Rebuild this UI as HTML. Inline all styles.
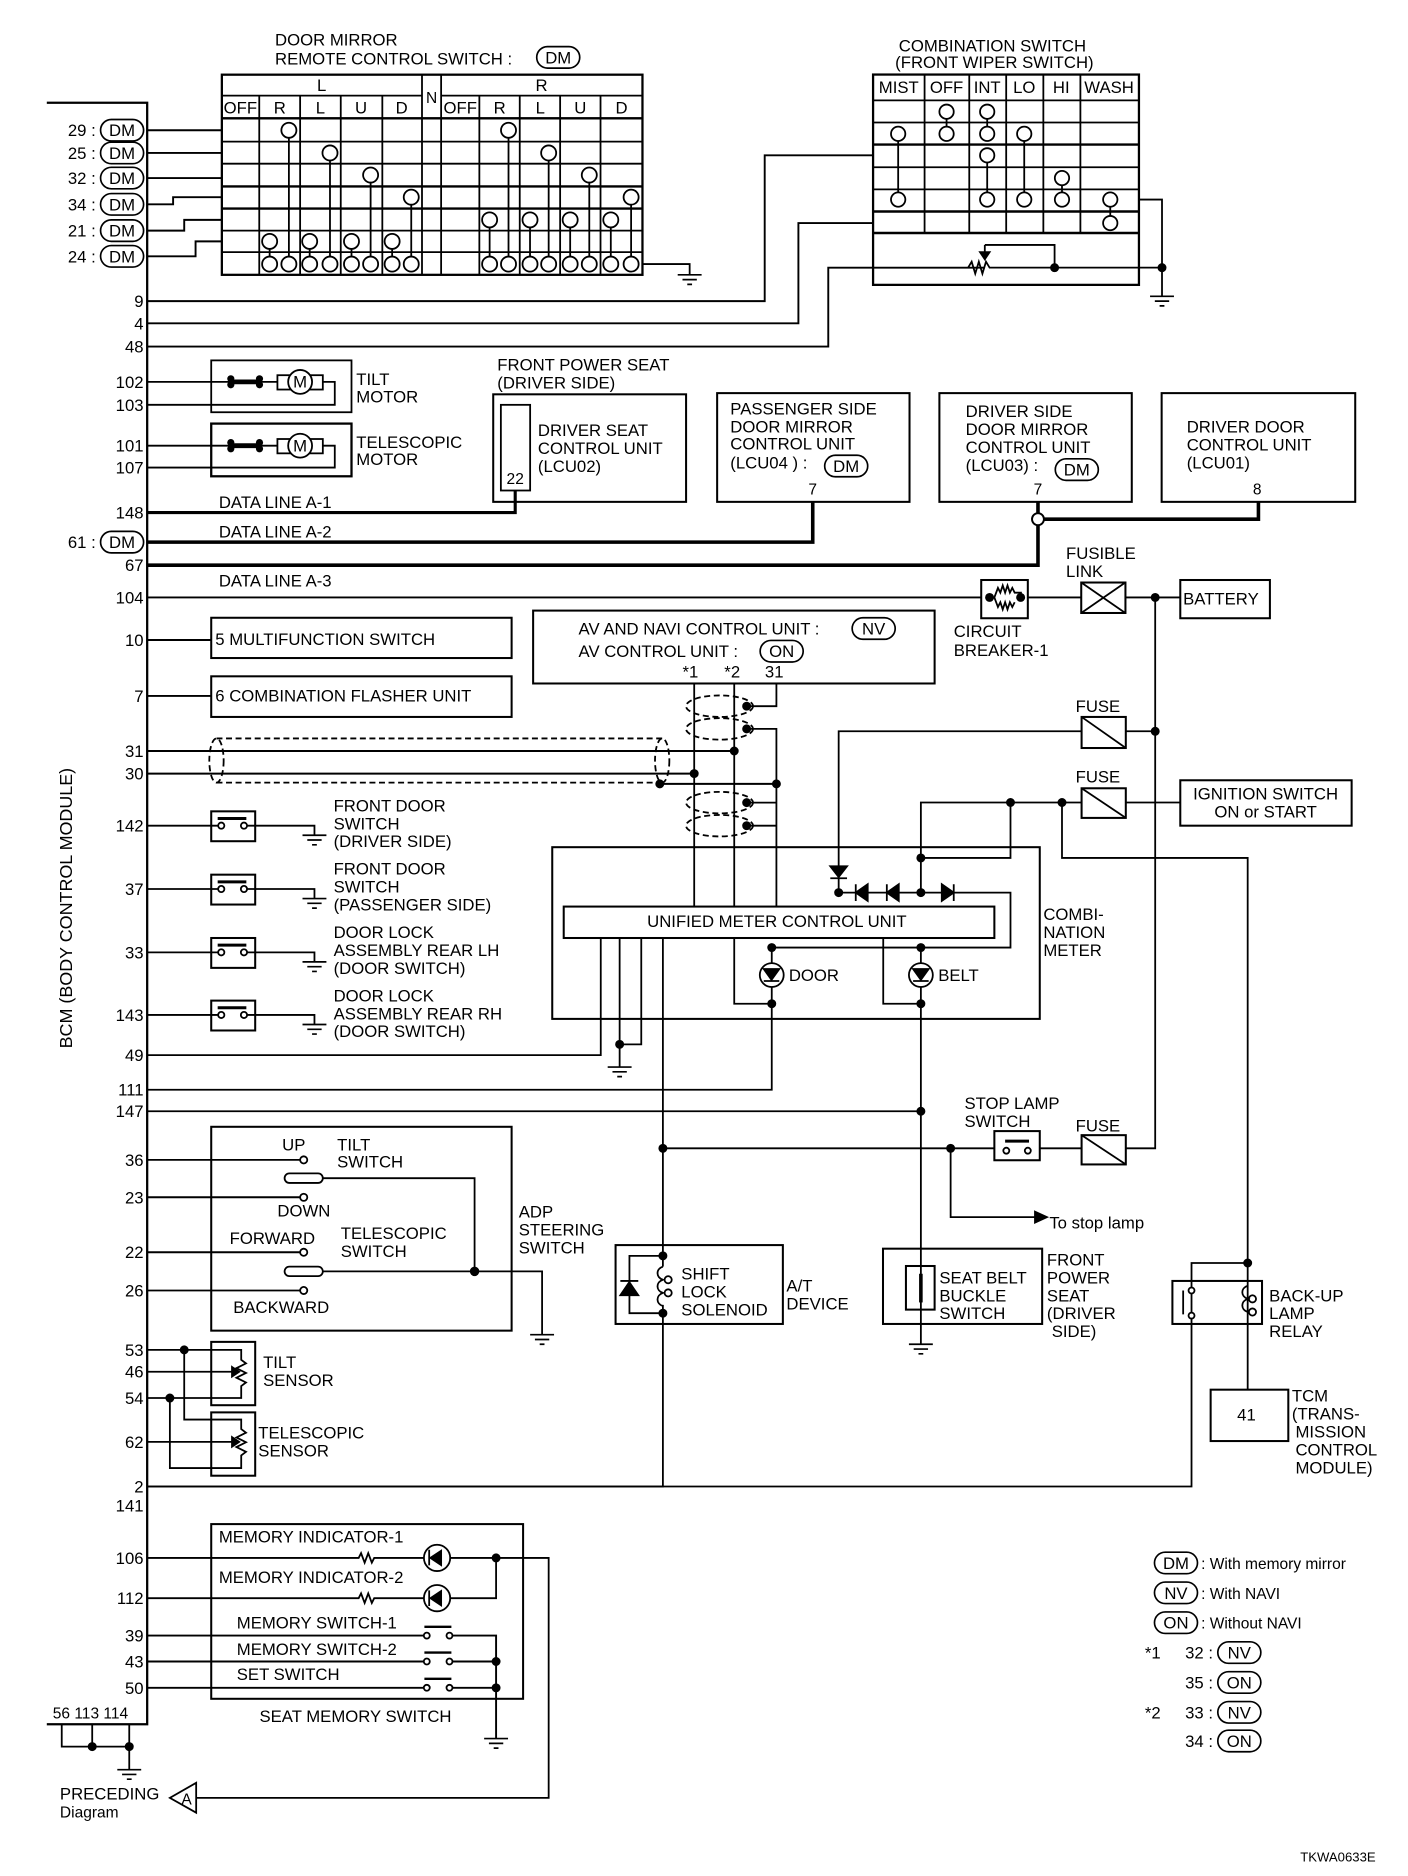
<!DOCTYPE html>
<html><head><meta charset="utf-8"><style>
html,body{margin:0;padding:0;background:#fff;}
svg{display:block;}
text{font-family:"Liberation Sans",sans-serif;font-size:14px;fill:#000;}
.s{font-size:13px;}
.r{text-anchor:end;}
.m{text-anchor:middle;}
</style></head><body>
<svg width="1408" height="1876" viewBox="0 0 1178 1570" xmlns="http://www.w3.org/2000/svg">
<defs>
<g id="gnd" stroke="#000" stroke-width="1.4" fill="none"><path d="M-10 0h20M-6 4h12M-2 8h4"/></g>
<g id="ov"><rect x="-18" y="-9" width="36" height="18" rx="9" fill="#fff" stroke="#000" stroke-width="1.4"/></g>
</defs>
<rect width="1178" height="1570" fill="#fff"/>
<g stroke="#000" fill="none" stroke-width="1.5">

<!-- BCM bus -->
<path d="M39 86H123V1443H39" stroke-width="1.9"/>

<!-- door mirror table -->
<rect x="185.5" y="62.5" width="352" height="167.5" stroke-width="1.9"/>
<path d="M185.5 80H353M369 80H537.5M185.5 99H537.5" />
<path d="M185.5 99H537.5M185.5 156H537.5M185.5 174.5H537.5" stroke-width="2"/>
<path d="M185.5 118.5H537.5M185.5 137H537.5M185.5 193H537.5M185.5 211H537.5"/>
<path d="M216.8 80V230M251 80V230M285 80V230M319.8 80V230M353 62.5V230M369 62.5V230M401 80V230M434.8 80V230M468.6 80V230M502.4 80V230" />
<path d="M123 109H185.5M123 128H185.5M123 149H185.5M123 171H144.7V165H185.5M123 193H154V184H185.5M123 214.5H163.5V202H185.5" stroke-width="1.6"/>
<path d="M241.6 109V221M276 128V221M310 146.5V221M344 165V221M225.5 202V221M259 202V221M294 202V221M328 202V221"/>
<path d="M425.4 109V221M459 128V221M493 146.5V221M528 165V221M409.6 184V221M443.4 184V221M477 184V221M511 184V221"/>
<g fill="#fff">
<circle cx="241.6" cy="109" r="6.3"/><circle cx="276" cy="128" r="6.3"/><circle cx="310" cy="146.5" r="6.3"/><circle cx="344" cy="165" r="6.3"/>
<circle cx="225.5" cy="202" r="6.3"/><circle cx="259" cy="202" r="6.3"/><circle cx="294" cy="202" r="6.3"/><circle cx="328" cy="202" r="6.3"/>
<circle cx="225.5" cy="221" r="6.3"/><circle cx="241.6" cy="221" r="6.3"/><circle cx="259" cy="221" r="6.3"/><circle cx="276" cy="221" r="6.3"/>
<circle cx="294" cy="221" r="6.3"/><circle cx="310" cy="221" r="6.3"/><circle cx="328" cy="221" r="6.3"/><circle cx="344" cy="221" r="6.3"/>
<circle cx="425.4" cy="109" r="6.3"/><circle cx="459" cy="128" r="6.3"/><circle cx="493" cy="146.5" r="6.3"/><circle cx="528" cy="165" r="6.3"/>
<circle cx="409.6" cy="184" r="6.3"/><circle cx="443.4" cy="184" r="6.3"/><circle cx="477" cy="184" r="6.3"/><circle cx="511" cy="184" r="6.3"/>
<circle cx="409.6" cy="221" r="6.3"/><circle cx="425.4" cy="221" r="6.3"/><circle cx="443.4" cy="221" r="6.3"/><circle cx="459" cy="221" r="6.3"/>
<circle cx="477" cy="221" r="6.3"/><circle cx="493" cy="221" r="6.3"/><circle cx="511" cy="221" r="6.3"/><circle cx="528" cy="221" r="6.3"/>
</g>
<path d="M537.5 221H577V230"/>
<use href="#gnd" x="577" y="230"/>

<path d="M123 252H639.8V130H730.5M123 270.6H668V186.7H730.5M123 290H693V224H824" stroke-width="1.6"/>

<!-- combination switch table -->
<rect x="730.5" y="62.4" width="222.5" height="176" stroke-width="1.9"/>
<path d="M730.5 84H953M730.5 102.5H953M730.5 140H953M730.5 158.5H953"/>
<path d="M730.5 121H953M730.5 177H953M730.5 195H953" stroke-width="2"/>
<path d="M773.6 62.4V195M811 62.4V195M841.9 62.4V195M873 62.4V195M904 62.4V195"/>
<path d="M792 93.5V112M826 93.5V112M826 130V167M751.5 112V167M857 112V167M888.6 149V167M929 167V186.7"/>
<g fill="#fff">
<circle cx="792" cy="93.5" r="6"/><circle cx="826" cy="93.5" r="6"/>
<circle cx="751.5" cy="112" r="6"/><circle cx="792" cy="112" r="6"/><circle cx="826" cy="112" r="6"/><circle cx="857" cy="112" r="6"/>
<circle cx="826" cy="130" r="6"/><circle cx="888.6" cy="149" r="6"/>
<circle cx="751.5" cy="167" r="6"/><circle cx="826" cy="167" r="6"/><circle cx="857" cy="167" r="6"/><circle cx="888.6" cy="167" r="6"/><circle cx="929" cy="167" r="6"/>
<circle cx="929" cy="186.7" r="6"/>
</g>
<path d="M810 224l3 -5 3 10 3 -10 3 10 3 -10 3 5H953H972.3M824 205V216M824 205H882.4V224M953 167H972.3V248"/>
<path d="M820 211l4 6 4 -6z" fill="#000"/>
<circle cx="882.4" cy="224" r="3" fill="#000"/><circle cx="972.3" cy="224" r="3" fill="#000"/>
<use href="#gnd" x="972.3" y="248"/>

<!-- motors -->
<rect x="176.6" y="301.6" width="117.4" height="43.4"/>
<rect x="176.6" y="354.5" width="117.4" height="44.1" stroke-width="1.9"/>
<path d="M123 319.6H232M270 319.6H280V338.8H123M123 373H232M270 373H280V391.3H123"/>
<g fill="#fff">
<rect x="232" y="314" width="38" height="12"/><circle cx="251" cy="319.6" r="10"/>
<rect x="232" y="367.4" width="38" height="12"/><circle cx="251" cy="373" r="10"/>
</g>
<path d="M194 319.6H216M194 373H216" stroke-width="4"/>
<g fill="#000" stroke="none"><circle cx="193" cy="317" r="3"/><circle cx="193" cy="322" r="3"/><circle cx="217" cy="317" r="3"/><circle cx="217" cy="322" r="3"/>
<circle cx="193" cy="370.4" r="3"/><circle cx="193" cy="375.6" r="3"/><circle cx="217" cy="370.4" r="3"/><circle cx="217" cy="375.6" r="3"/></g>

<!-- front power seat / units -->
<rect x="412.6" y="330" width="161.4" height="90" stroke-width="1.7"/>
<rect x="419" y="338.8" width="24.5" height="71.7"/>
<rect x="600" y="329" width="161" height="91" stroke-width="1.7"/>
<rect x="786" y="329" width="161" height="91" stroke-width="1.7"/>
<rect x="972" y="329" width="162" height="91" stroke-width="1.7"/>
<path d="M123 429H431V410.5" stroke-width="2.6"/>
<path d="M123 453.7H680V420" stroke-width="3"/>
<path d="M123 473H868.5V439.5M873.5 434.5H1053V420M868.5 420V429.5" stroke-width="3"/>
<circle cx="868.5" cy="434.5" r="5" fill="#fff" stroke-width="1.6"/>

<!-- row 104 / battery -->
<path d="M123 500H821M860 500H905M941.6 500H987.6M966.6 500V961H941.6M941.6 612H966.6M941.6 671.6H987.6" />
<rect x="821" y="485.4" width="39" height="32" fill="#fff" stroke-width="1.7"/>
<path d="M826 500H832l3-8 2 4 2-6 2 6 2-6 2 6 2-4 2 4H855M832 500l3 8 2-4 2 6 2-6 2 6 2-6 2 4 2-4"/>
<circle cx="828" cy="500" r="3" fill="#000"/><circle cx="854" cy="500" r="3" fill="#000"/>
<rect x="904.7" y="487.5" width="37" height="25.5" stroke-width="1.7"/>
<path d="M904.7 487.5L941.6 513M941.6 487.5L904.7 513"/>
<circle cx="966.6" cy="500" r="3" fill="#000"/>
<rect x="987.6" y="485.4" width="75" height="32" stroke-width="1.7"/>

<!-- fuses -->
<rect x="905" y="600" width="37" height="26" stroke-width="1.7"/><path d="M905 600L942 626"/>
<rect x="905" y="659.7" width="37" height="24.8" stroke-width="1.7"/><path d="M905 659.7L942 684.5"/>
<circle cx="966.6" cy="612" r="3" fill="#000"/>
<rect x="987.6" y="653" width="143.4" height="38" stroke-width="1.7"/>
<path d="M905 612H701.7V747M905 671.6H770.5V747M845.5 671.6V718H770.5M888.6 671.6V718H1044V1057H997V1085"/>
<circle cx="845.5" cy="671.6" r="3" fill="#000"/><circle cx="888.6" cy="671.6" r="3" fill="#000"/><circle cx="770.5" cy="718" r="3" fill="#000"/>

<!-- AV box -->
<rect x="446" y="511" width="336" height="61" stroke-width="1.7"/>
<path d="M580.8 572V758.7M614.3 572V840H645.7M649.6 572V591H624.7M624.7 610H649.6V758.7M624.7 671.7H649.6M624.7 691H649.6"/>
<g stroke-dasharray="5 3">
<ellipse cx="602" cy="591" rx="28" ry="9"/><ellipse cx="602" cy="610" rx="28" ry="9"/>
<ellipse cx="602" cy="671.7" rx="28" ry="9"/><ellipse cx="602" cy="691" rx="28" ry="9"/>
<path d="M181 618H554M181 655H554"/>
<ellipse cx="181" cy="636.5" rx="6" ry="18.5"/><ellipse cx="554" cy="636.5" rx="6" ry="18.5"/>
</g>
<path d="M123 628.5H614.3M123 647.4H580.8M552 656H649.6" stroke-width="1.7"/>
<g fill="#000"><circle cx="624.7" cy="591" r="3"/><circle cx="624.7" cy="610" r="3"/><circle cx="624.7" cy="671.7" r="3"/><circle cx="624.7" cy="691" r="3"/>
<circle cx="614.3" cy="628.5" r="3"/><circle cx="580.8" cy="647.4" r="3"/><circle cx="552" cy="656" r="3"/><circle cx="649.6" cy="656" r="3"/></g>

<!-- combination meter -->
<rect x="462" y="709" width="408" height="143.7" stroke-width="1.7"/>
<path d="M701.7 747H845.5V793H645.7V816M770.5 793V1125M739 785V840H770.5M645.7 816V912H123"/>
<path d="M694.7 725h14l-7 9z" fill="#000"/><path d="M694.7 735h14"/>
<path d="M716 747l10 -7v14z M742 747l10 -7v14z M798 747l-10 -7v14z" fill="#000"/>
<path d="M716 740v14M742 740v14M798 740v14"/>
<g fill="#000"><circle cx="701.7" cy="747" r="3"/><circle cx="770.5" cy="747" r="3"/><circle cx="645.7" cy="793" r="3"/><circle cx="770.5" cy="793" r="3"/><circle cx="645.7" cy="840" r="3"/><circle cx="770.5" cy="840" r="3"/></g>
<circle cx="645.7" cy="816" r="10" fill="#fff"/><circle cx="770.5" cy="816" r="10" fill="#fff"/>
<path d="M639 811h13l-6.5 9z M764 811h13l-6.5 9z" fill="#000"/><path d="M639 821h13M764 821h13"/>
<rect x="471.6" y="758.7" width="360.4" height="26.3" fill="#fff" stroke-width="1.7"/>
<path d="M502.6 785V883H123M518.4 785V893M536.5 785V874H518.4M554.6 785V1051M554.6 1099V1244H123"/>
<circle cx="518.4" cy="874" r="3" fill="#000"/>
<use href="#gnd" x="518.4" y="893"/>

<!-- 147 and stop lamp -->
<path d="M123 930H770.5M554.6 961H832M870 961H905M795.4 961V1018.6H868"/>
<path d="M866 1014l10 4.6 -10 4.6z" fill="#000"/>
<g fill="#000"><circle cx="770.5" cy="930" r="3"/><circle cx="554.6" cy="961" r="3"/><circle cx="795.4" cy="961" r="3"/></g>
<rect x="832" y="946.6" width="38" height="24.4" stroke-width="1.7"/>
<path d="M841 955h20" stroke-width="2.5"/><circle cx="842" cy="963" r="2.5" fill="#fff"/><circle cx="860" cy="963" r="2.5" fill="#fff"/>
<rect x="905" y="950" width="37" height="24.5" stroke-width="1.7"/><path d="M905 950L942 974.5"/>

<!-- shift lock -->
<rect x="515" y="1042" width="140" height="66" stroke-width="1.7"/>
<path d="M554.6 1051H526.6V1099H554.6M554.6 1051V1060M554.6 1092V1099"/>
<path d="M519 1084h15l-7.5 -11z" fill="#000"/><path d="M519 1072h15"/>
<path d="M554.6 1060c-6 2 -6 9 0 11c-6 2 -6 9 0 11c-6 2 -6 9 0 11"/>
<circle cx="559" cy="1071" r="3"/><circle cx="559" cy="1082" r="3"/>
<circle cx="554.6" cy="1051" r="3" fill="#000"/><circle cx="554.6" cy="1099" r="3" fill="#000"/>

<!-- seat belt -->
<rect x="738.8" y="1045" width="133.2" height="63" stroke-width="1.7"/>
<rect x="758" y="1059.5" width="24" height="36.5" stroke-width="1.7"/>
<path d="M770.5 1066V1090" stroke-width="3"/>
<use href="#gnd" x="770.5" y="1125"/>

<!-- backup relay & TCM -->
<rect x="981" y="1072" width="75" height="36" stroke-width="1.7"/>
<path d="M997 1085V1244H123M990 1080V1100M1044 1057V1163M1044 1076c-6 2 -6 9 0 11c-6 2 -6 9 0 11"/>
<circle cx="1044" cy="1057" r="3" fill="#000"/>
<circle cx="997" cy="1080" r="2.5" fill="#fff"/><circle cx="997" cy="1101" r="2.5" fill="#fff"/>
<circle cx="1048" cy="1087" r="3"/><circle cx="1048" cy="1098" r="3"/>
<rect x="1013" y="1163" width="65" height="43" stroke-width="1.7"/>

<!-- left boxes -->
<rect x="176.6" y="517" width="251.4" height="33.7" stroke-width="1.7"/>
<rect x="176.6" y="566" width="251.4" height="34" stroke-width="1.7"/>
<path d="M123 535.6H176.6M123 582.4H176.6" stroke-width="1.6"/>
<g id="dsw"><rect x="176.6" y="679" width="36.8" height="25" stroke-width="1.7"/><path d="M182 685h24" stroke-width="2.5"/>
<circle cx="185" cy="691" r="2.6" fill="#fff"/><circle cx="204" cy="691" r="2.6" fill="#fff"/>
<path d="M123 691H182.4M206.6 691H263V699"/><use href="#gnd" x="263" y="699"/></g>
<use href="#dsw" y="53"/><use href="#dsw" y="106"/><use href="#dsw" y="158.4"/>

<!-- ADP steering -->
<rect x="176.6" y="943" width="251.4" height="170.6" stroke-width="1.7"/>
<path d="M123 970.7H251M123 1080H251" />
<path d="M123 1002H251M123 1048H251" stroke-width="1.7"/>
<g fill="#fff"><circle cx="254" cy="970.7" r="3"/><circle cx="254" cy="1002" r="3"/><circle cx="254" cy="1048" r="3"/><circle cx="254" cy="1080" r="3"/></g>
<rect x="238" y="982" width="32" height="8" rx="4"/><rect x="238" y="1060" width="32" height="8" rx="4"/>
<path d="M270 986H397V1064M270 1064H453.5V1117" />
<circle cx="397" cy="1064" r="3.2" fill="#000"/>
<use href="#gnd" x="453.5" y="1117"/>

<!-- sensors -->
<rect x="176.6" y="1123" width="36.8" height="53" stroke-width="1.7"/>
<rect x="176.6" y="1182" width="36.8" height="53" stroke-width="1.7"/>
<path d="M123 1129.7H201.7V1138l4 3-8 4 8 4-8 4 8 4-4 3V1170H123M123 1148H196M154 1129.7V1188H201.7V1196l4 3-8 4 8 4-8 4 8 4-4 3V1228.6H142V1170M123 1206.7H196" stroke-width="1.5"/>
<path d="M194 1144l6 4-6 4z M194 1202.7l6 4-6 4z" fill="#000"/>
<circle cx="154" cy="1129.7" r="3" fill="#000"/><circle cx="142" cy="1170" r="3" fill="#000"/>

<!-- seat memory -->
<rect x="176.6" y="1275.5" width="261" height="146.2" stroke-width="1.7"/>
<path d="M123 1303.8H300l2-4 3 8 3-8 3 8 2-4H459V1504.6H164M123 1337.5H300l2-4 3 8 3-8 3 8 2-4H415V1303.8" />
<path d="M123 1368.8H355M377.6 1368.8H415V1455M123 1390.5H355M377.6 1390.5H415M123 1412.5H355M377.6 1412.5H415" stroke-width="1.6"/>
<circle cx="365.6" cy="1303.8" r="11" fill="#fff"/><circle cx="365.6" cy="1337.5" r="11" fill="#fff"/>
<path d="M360 1303.8l9 -6v12z M360 1337.5l9 -6v12z" fill="#000"/><path d="M359 1297v13M359 1331v13"/>
<path d="M355 1361.5h22.6M355 1383h22.6M355 1405h22.6" stroke-width="2"/>
<g fill="#fff"><circle cx="357" cy="1368.8" r="2.5"/><circle cx="376" cy="1368.8" r="2.5"/><circle cx="357" cy="1390.5" r="2.5"/><circle cx="376" cy="1390.5" r="2.5"/><circle cx="357" cy="1412.5" r="2.5"/><circle cx="376" cy="1412.5" r="2.5"/></g>
<g fill="#000"><circle cx="415" cy="1303.8" r="3"/><circle cx="415" cy="1390.5" r="3"/><circle cx="415" cy="1412.5" r="3"/></g>
<use href="#gnd" x="415" y="1455"/>
<path d="M51.5 1443V1461.7H108M77 1443V1461.7M108 1443V1481"/>
<circle cx="77" cy="1461.7" r="3" fill="#000"/><circle cx="108" cy="1461.7" r="3" fill="#000"/>
<use href="#gnd" x="108" y="1481"/>
<path d="M142 1504.6L164 1492V1517z" fill="#fff"/>
</g>

<!-- ovals -->
<use href="#ov" x="102" y="109"/><use href="#ov" x="102" y="128"/><use href="#ov" x="102" y="149"/>
<use href="#ov" x="102" y="171"/><use href="#ov" x="102" y="193"/><use href="#ov" x="102" y="214.5"/>
<use href="#ov" x="102" y="453.7"/><use href="#ov" x="467" y="48"/>
<use href="#ov" x="708" y="390"/><use href="#ov" x="901" y="393"/>
<use href="#ov" x="731" y="526"/><use href="#ov" x="654" y="545"/>
<use href="#ov" x="984" y="1308"/><use href="#ov" x="984" y="1333"/><use href="#ov" x="984" y="1358"/>
<use href="#ov" x="1037" y="1383"/><use href="#ov" x="1037" y="1408"/><use href="#ov" x="1037" y="1433"/><use href="#ov" x="1037" y="1457"/>

<!-- texts -->
<g>
<text x="251" y="324.5" class="m" style="font-size:14px">M</text><text x="251" y="378" class="m" style="font-size:14px">M</text>
<text x="230" y="38">DOOR MIRROR</text>
<text x="230" y="54">REMOTE CONTROL SWITCH :</text><text x="467" y="53" class="m">DM</text>
<text x="269" y="76" class="m">L</text><text x="361" y="86" class="m s">N</text><text x="453" y="76" class="m">R</text>
<g class="s"><text x="201" y="95" class="m">OFF</text><text x="234" y="95" class="m">R</text><text x="268" y="95" class="m">L</text><text x="302" y="95" class="m">U</text><text x="336" y="95" class="m">D</text>
<text x="385" y="95" class="m">OFF</text><text x="418" y="95" class="m">R</text><text x="452" y="95" class="m">L</text><text x="485.5" y="95" class="m">U</text><text x="520" y="95" class="m">D</text></g>
<text x="752" y="43">COMBINATION SWITCH</text><text x="749" y="57">(FRONT WIPER SWITCH)</text>
<g class="s"><text x="752" y="78" class="m">MIST</text><text x="792" y="78" class="m">OFF</text><text x="826" y="78" class="m">INT</text><text x="857" y="78" class="m">LO</text><text x="888" y="78" class="m">HI</text><text x="928" y="78" class="m">WASH</text></g>

<g class="r">
<text x="80" y="114">29 :</text><text x="80" y="133">25 :</text><text x="80" y="154">32 :</text><text x="80" y="176">34 :</text><text x="80" y="198">21 :</text><text x="80" y="219.5">24 :</text>
<text x="120" y="257">9</text><text x="120" y="275.6">4</text><text x="120" y="295">48</text>
<text x="120" y="324.6">102</text><text x="120" y="343.8">103</text><text x="120" y="378">101</text><text x="120" y="396.3">107</text>
<text x="120" y="434">148</text><text x="80" y="458.7">61 :</text><text x="120" y="478">67</text><text x="120" y="505">104</text>
<text x="120" y="540.6">10</text><text x="120" y="587.4">7</text><text x="120" y="633.5">31</text><text x="120" y="652.4">30</text>
<text x="120" y="696">142</text><text x="120" y="749">37</text><text x="120" y="802">33</text><text x="120" y="854.4">143</text>
<text x="120" y="888">49</text><text x="120" y="917">111</text><text x="120" y="935">147</text>
<text x="120" y="975.7">36</text><text x="120" y="1007">23</text><text x="120" y="1053">22</text><text x="120" y="1085">26</text>
<text x="120" y="1134.7">53</text><text x="120" y="1153">46</text><text x="120" y="1175">54</text><text x="120" y="1211.7">62</text>
<text x="120" y="1249">2</text><text x="120" y="1265">141</text>
<text x="120" y="1308.8">106</text><text x="120" y="1342.5">112</text><text x="120" y="1373.8">39</text><text x="120" y="1395.5">43</text><text x="120" y="1417.5">50</text>
</g>
<g class="m"><text x="102" y="114">DM</text><text x="102" y="133">DM</text><text x="102" y="154">DM</text><text x="102" y="176">DM</text><text x="102" y="198">DM</text><text x="102" y="219.5">DM</text><text x="102" y="458.7">DM</text>
<text x="708" y="395">DM</text><text x="901" y="398">DM</text><text x="731" y="531">NV</text><text x="654" y="550">ON</text>
<text x="984" y="1313">DM</text><text x="984" y="1338">NV</text><text x="984" y="1363">ON</text>
<text x="1037" y="1388">NV</text><text x="1037" y="1413">ON</text><text x="1037" y="1438">NV</text><text x="1037" y="1462">ON</text></g>
<text x="44" y="1438" class="s">56 113 114</text>

<text transform="translate(60 760) rotate(-90)" class="m" style="font-size:15px">BCM (BODY CONTROL MODULE)</text>

<text x="298" y="322">TILT</text><text x="298" y="337">MOTOR</text>
<text x="298" y="375">TELESCOPIC</text><text x="298" y="389">MOTOR</text>
<text x="416" y="310">FRONT POWER SEAT</text><text x="416" y="325">(DRIVER SIDE)</text>
<text x="450" y="365">DRIVER SEAT</text><text x="450" y="380">CONTROL UNIT</text><text x="450" y="395">(LCU02)</text>
<text x="431" y="405" class="m s">22</text>
<text x="611" y="347">PASSENGER SIDE</text><text x="611" y="362">DOOR MIRROR</text><text x="611" y="376">CONTROL UNIT</text><text x="611" y="392">(LCU04 ) :</text><text x="680" y="414" class="m s">7</text>
<text x="808" y="349">DRIVER SIDE</text><text x="808" y="364">DOOR MIRROR</text><text x="808" y="379">CONTROL UNIT</text><text x="808" y="394">(LCU03)  :</text><text x="868.5" y="414" class="m s">7</text>
<text x="993" y="362">DRIVER DOOR</text><text x="993" y="377">CONTROL UNIT</text><text x="993" y="392">(LCU01)</text><text x="1052" y="414" class="m s">8</text>
<text x="183" y="425">DATA LINE A-1</text><text x="183" y="450">DATA LINE A-2</text><text x="183" y="491">DATA LINE A-3</text>
<text x="892" y="468">FUSIBLE</text><text x="892" y="483">LINK</text>
<text x="990" y="506">BATTERY</text>
<text x="798" y="533">CIRCUIT</text><text x="798" y="549">BREAKER-1</text>
<text x="484" y="531">AV AND NAVI CONTROL UNIT :</text><text x="484" y="550">AV CONTROL UNIT :</text>
<text x="571" y="567">*1</text><text x="606" y="567">*2</text><text x="640" y="567">31</text>
<text x="180" y="540">5  MULTIFUNCTION SWITCH</text><text x="180" y="587">6  COMBINATION FLASHER UNIT</text>
<text x="900" y="596">FUSE</text><text x="900" y="655">FUSE</text>
<text x="1059" y="669" class="m">IGNITION SWITCH</text><text x="1059" y="684" class="m">ON or START</text>
<text x="279" y="679">FRONT DOOR</text><text x="279" y="694">SWITCH</text><text x="279" y="709">(DRIVER SIDE)</text>
<text x="279" y="732">FRONT DOOR</text><text x="279" y="747">SWITCH</text><text x="279" y="762">(PASSENGER SIDE)</text>
<text x="279" y="785">DOOR LOCK</text><text x="279" y="800">ASSEMBLY REAR LH</text><text x="279" y="815">(DOOR SWITCH)</text>
<text x="279" y="838">DOOR LOCK</text><text x="279" y="853">ASSEMBLY REAR RH</text><text x="279" y="868">(DOOR SWITCH)</text>
<text x="650" y="776" class="m">UNIFIED METER CONTROL UNIT</text>
<text x="873" y="770">COMBI-</text><text x="873" y="785">NATION</text><text x="873" y="800">METER</text>
<text x="660" y="821">DOOR</text><text x="785" y="821">BELT</text>
<text x="807" y="928">STOP LAMP</text><text x="807" y="943">SWITCH</text><text x="900" y="947">FUSE</text>
<text x="878" y="1028">To stop lamp</text>
<text x="236" y="963">UP</text><text x="282" y="963">TILT</text><text x="282" y="977">SWITCH</text>
<text x="232" y="1018">DOWN</text><text x="192" y="1041">FORWARD</text><text x="285" y="1037">TELESCOPIC</text><text x="285" y="1052">SWITCH</text>
<text x="195" y="1099">BACKWARD</text>
<text x="434" y="1019">ADP</text><text x="434" y="1034">STEERING</text><text x="434" y="1049">SWITCH</text>
<text x="570" y="1071">SHIFT</text><text x="570" y="1086">LOCK</text><text x="570" y="1101">SOLENOID</text>
<text x="658" y="1081">A/T</text><text x="658" y="1096">DEVICE</text>
<text x="786" y="1074">SEAT BELT</text><text x="786" y="1089">BUCKLE</text><text x="786" y="1104">SWITCH</text>
<text x="876" y="1059">FRONT</text><text x="876" y="1074">POWER</text><text x="876" y="1089">SEAT</text><text x="876" y="1104">(DRIVER</text><text x="880" y="1119">SIDE)</text>
<text x="1062" y="1089">BACK-UP</text><text x="1062" y="1104">LAMP</text><text x="1062" y="1119">RELAY</text>
<text x="1043" y="1189" class="m">41</text>
<text x="1081" y="1173">TCM</text><text x="1081" y="1188">(TRANS-</text><text x="1084" y="1203">MISSION</text><text x="1084" y="1218">CONTROL</text><text x="1084" y="1233">MODULE)</text>
<text x="220" y="1145">TILT</text><text x="220" y="1160">SENSOR</text>
<text x="216" y="1204">TELESCOPIC</text><text x="216" y="1219">SENSOR</text>
<text x="183" y="1291">MEMORY INDICATOR-1</text><text x="183" y="1325">MEMORY INDICATOR-2</text>
<text x="198" y="1363">MEMORY SWITCH-1</text><text x="198" y="1385">MEMORY SWITCH-2</text><text x="198" y="1406">SET SWITCH</text>
<text x="217" y="1441">SEAT MEMORY SWITCH</text>
<text x="50" y="1506">PRECEDING</text><text x="50" y="1521" class="s">Diagram</text><text x="156" y="1510" class="m s">A</text>
<text x="1005" y="1313" class="s">: With memory mirror</text><text x="1005" y="1338" class="s">: With NAVI</text><text x="1005" y="1363" class="s">: Without NAVI</text>
<text x="958" y="1388">*1</text><text x="1015" y="1388" class="r">32 :</text><text x="1015" y="1413" class="r">35 :</text>
<text x="958" y="1438">*2</text><text x="1015" y="1438" class="r">33 :</text><text x="1015" y="1462" class="r">34 :</text>
<text x="1088" y="1558" style="font-size:11px">TKWA0633E</text>
</g>
</svg>
</body></html>
